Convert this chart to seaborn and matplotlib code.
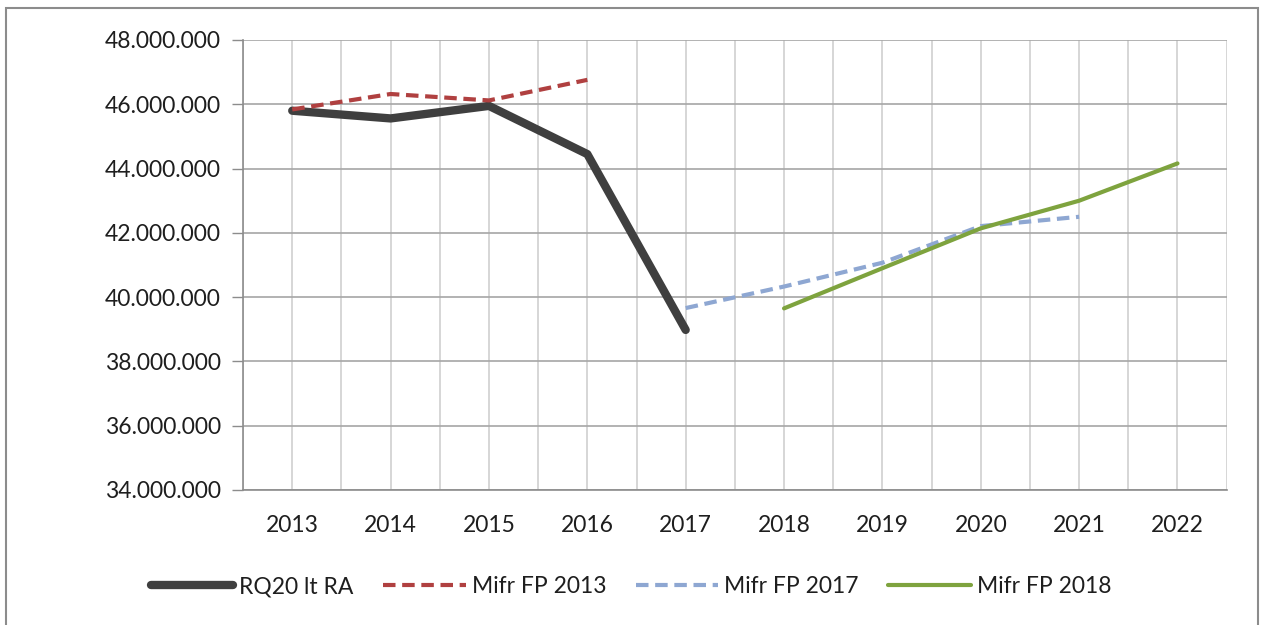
import numpy as np
import pandas as pd
import matplotlib
matplotlib.use("Agg")
import matplotlib.pyplot as plt
import seaborn as sns
from matplotlib.ticker import FuncFormatter, FixedLocator
from matplotlib.patches import Rectangle

# >> Data
years = [2013, 2014, 2015, 2016, 2017, 2018, 2019, 2020, 2021, 2022]
rq20_lt_ra = [45.80e6, 45.56e6, 45.95e6, 44.45e6, 38.98e6, np.nan, np.nan, np.nan, np.nan, np.nan]
mifr_fp_2013 = [45.84e6, 46.32e6, 46.12e6, 46.76e6, np.nan, np.nan, np.nan, np.nan, np.nan, np.nan]
mifr_fp_2017 = [np.nan, np.nan, np.nan, np.nan, 39.66e6, 40.33e6, 41.07e6, 42.21e6, 42.50e6, np.nan]
mifr_fp_2018 = [np.nan, np.nan, np.nan, np.nan, np.nan, 39.65e6, 40.90e6, 42.14e6, 43.00e6, 44.16e6]

series_names = ["RQ20 lt RA", "Mifr FP 2013", "Mifr FP 2017", "Mifr FP 2018"]
y_ticks = [34e6, 36e6, 38e6, 40e6, 42e6, 44e6, 46e6, 48e6]

df = pd.DataFrame({"year": years,
                   "RQ20 lt RA": rq20_lt_ra,
                   "Mifr FP 2013": mifr_fp_2013,
                   "Mifr FP 2017": mifr_fp_2017,
                   "Mifr FP 2018": mifr_fp_2018})

sns.set_style("white")
plt.rcParams['font.family'] = ['Lato', 'DejaVu Sans']
plt.rcParams['text.color'] = '#1e1e1e'
plt.rcParams['xtick.color'] = '#8c8c8c'
plt.rcParams['ytick.color'] = '#8c8c8c'
plt.rcParams['xtick.labelcolor'] = '#1e1e1e'
plt.rcParams['ytick.labelcolor'] = '#1e1e1e'

fig = plt.figure(figsize=(12.62, 6.25), dpi=100)
ax = fig.add_axes([0.1926, 0.216, 0.7794, 0.72])

styles = {
    "RQ20 lt RA": dict(color="#3f3f3f", lw=6.0, ls="-"),
    "Mifr FP 2013": dict(color="#b04040", lw=3.0, ls=(0, (3, 1.6))),
    "Mifr FP 2017": dict(color="#8ea7d2", lw=3.0, ls=(0, (3, 1.6))),
    "Mifr FP 2018": dict(color="#7ea33e", lw=3.0, ls="-"),
}
for name in series_names:
    st = styles[name]
    sns.lineplot(data=df, x="year", y=name, ax=ax, color=st["color"],
                 linewidth=st["lw"], linestyle=st["ls"], label=name,
                 solid_capstyle="round", dash_capstyle="butt")

ax.set_xlim(2012.5, 2022.5)
ax.set_ylim(34e6, 48e6)
ax.set_xlabel("")
ax.set_ylabel("")

ax.xaxis.set_major_locator(FixedLocator(years))
ax.xaxis.set_minor_locator(FixedLocator([y - 0.5 for y in years] + [2022.5]))
ax.set_yticks(y_ticks)
ax.yaxis.set_major_formatter(FuncFormatter(lambda v, p: f"{v:,.0f}".replace(",", ".")))

ax.tick_params(axis="x", which="major", length=0, pad=18, labelsize=16.5)
ax.tick_params(axis="x", which="minor", length=8, width=1, direction="out")
ax.tick_params(axis="y", which="major", length=8, width=1, direction="out",
               pad=8, labelsize=16.5, left=True)

ax.grid(True, axis="y", color="#a6a6a6", lw=1.2)
ax.grid(True, axis="x", which="both", color="#cfcfcf", lw=1.2)
ax.set_axisbelow(True)

for side in ["top", "right"]:
    ax.spines[side].set_visible(False)
for side in ["left", "bottom"]:
    ax.spines[side].set_color("#8c8c8c")
    ax.spines[side].set_linewidth(1.2)

ax.legend(loc="center", bbox_to_anchor=(0.5, 0.061), bbox_transform=fig.transFigure,
          ncol=4, frameon=False, fontsize=16.5, handlelength=3.6, handletextpad=0.25,
          columnspacing=1.3)

fig.patches.append(Rectangle((0.005, -0.01), 0.992, 0.997, transform=fig.transFigure,
                             fill=False, edgecolor="#8c8c8c", lw=1.5))

fig.savefig("out.png", dpi=100)
